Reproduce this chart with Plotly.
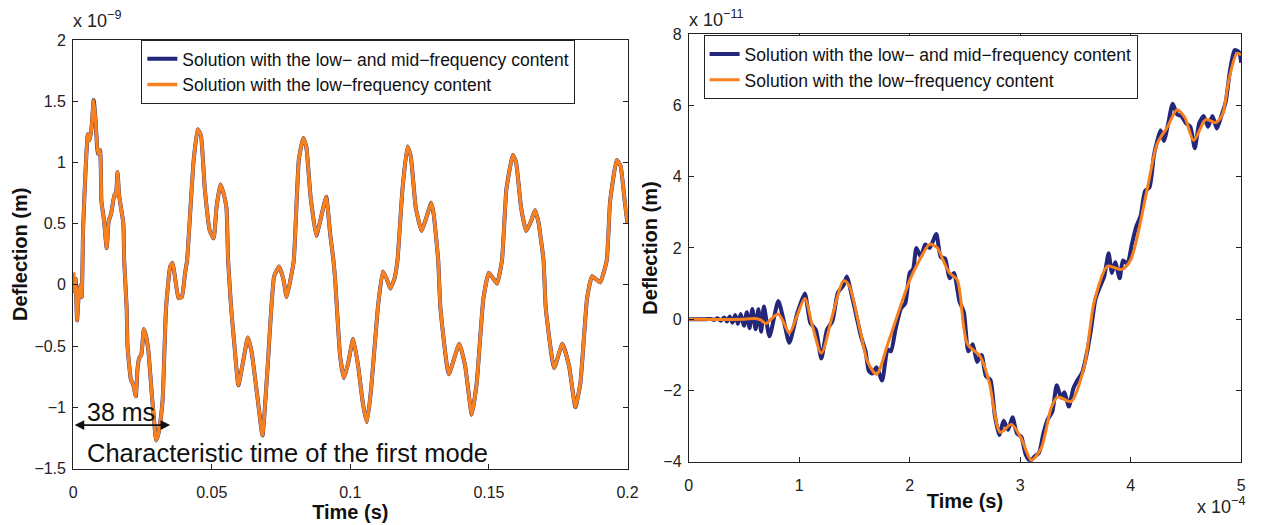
import plotly.graph_objects as go

# ---------------- data (left panel: time in s, deflection in 1e-9 m) ----------------
left_t = [0.0, 0.0004, 0.0009, 0.0014, 0.0020, 0.0026, 0.0031, 0.0036, 0.0045, 0.0053, 0.0060,
          0.0067, 0.0074, 0.0081, 0.0089, 0.0097, 0.0102, 0.0110, 0.0121, 0.0128, 0.0137, 0.0149,
          0.0154, 0.0160, 0.0166, 0.0181, 0.0184, 0.0193, 0.0196, 0.0208, 0.0216, 0.0226, 0.0232,
          0.0238, 0.0246, 0.0255, 0.0264, 0.0271, 0.0285, 0.0291, 0.0299, 0.0307, 0.0315, 0.0323,
          0.0335, 0.0350, 0.0359, 0.0368, 0.0380, 0.0392, 0.0404, 0.0411, 0.0434, 0.0449, 0.0461,
          0.0475, 0.0493, 0.0507, 0.0517, 0.0531, 0.0541, 0.0553, 0.0559, 0.0570, 0.0582, 0.0596,
          0.0612, 0.0630, 0.0644, 0.0665, 0.0683, 0.0701, 0.0725, 0.0743, 0.0758, 0.0770, 0.0782,
          0.0796, 0.0814, 0.0830, 0.0841, 0.0856, 0.0877, 0.0891, 0.0913, 0.0927, 0.0939, 0.0945,
          0.0963, 0.0977, 0.0992, 0.1010, 0.1028, 0.1046, 0.1060, 0.1075, 0.1099, 0.1117, 0.1131,
          0.1144, 0.1159, 0.1170, 0.1188, 0.1206, 0.1218, 0.1236, 0.1257, 0.1277, 0.1292, 0.1301,
          0.1317, 0.1325, 0.1355, 0.1393, 0.1414, 0.1438, 0.1456, 0.1480, 0.1500, 0.1529, 0.1547,
          0.1563, 0.1586, 0.1598, 0.1616, 0.1634, 0.1652, 0.1666, 0.1678, 0.1697, 0.1705, 0.1735,
          0.1765, 0.1789, 0.1812, 0.1830, 0.1854, 0.1872, 0.1901, 0.1925, 0.1937, 0.1961, 0.1975,
          0.1990, 0.2000]
left_y = [0.10, -0.05, 0.05, -0.29, -0.08, 0.00, -0.10, 0.47, 0.95, 1.23, 1.18,
          1.30, 1.51, 1.34, 1.07, 1.10, 0.68, 0.55, 0.30, 0.52, 0.58, 0.74,
          0.73, 0.92, 0.73, 0.50, 0.20, -0.19, -0.50, -0.77, -0.81, -0.91, -0.69,
          -0.60, -0.57, -0.36, -0.43, -0.53, -0.93, -1.08, -1.27, -1.22, -1.11, -0.93,
          -0.19, 0.15, 0.18, 0.05, -0.11, -0.10, 0.10, 0.20, 1.00, 1.27, 1.22,
          0.78, 0.44, 0.38, 0.63, 0.82, 0.76, 0.63, 0.20, -0.19, -0.50, -0.82,
          -0.64, -0.43, -0.55, -0.92, -1.23, -0.69, 0.07, 0.15, 0.05, -0.10, 0.02,
          0.20, 1.02, 1.20, 1.13, 0.73, 0.40, 0.52, 0.72, 0.42, 0.20, 0.05,
          -0.58, -0.76, -0.64, -0.44, -0.66, -0.98, -1.12, -0.85, -0.19, 0.11, 0.05,
          -0.03, 0.05, 0.20, 0.78, 1.13, 1.05, 0.63, 0.44, 0.57, 0.67, 0.57,
          0.20, -0.19, -0.73, -0.48, -0.66, -1.06, -0.80, -0.11, 0.10, 0.01, 0.20,
          0.78, 1.06, 1.00, 0.63, 0.44, 0.52, 0.61, 0.52, 0.20, -0.19, -0.68,
          -0.48, -0.66, -1.00, -0.80, -0.11, 0.07, 0.02, 0.20, 0.68, 1.02, 0.97,
          0.68, 0.50]

# ---------------- data (right panel: time in 1e-4 s, deflection in 1e-11 m) ----------------
right_low_t = [0.0, 0.50, 0.60, 0.65, 0.70, 0.76, 0.81, 0.86, 0.91, 0.98, 1.05, 1.12, 1.20, 1.30,
               1.40, 1.45, 1.55, 1.62, 1.70, 1.80, 1.91, 2.00, 2.09, 2.18, 2.25, 2.30, 2.36, 2.43,
               2.52, 2.64, 2.72, 2.82, 2.92, 3.01, 3.10, 3.19, 3.28, 3.34, 3.46, 3.58, 3.67, 3.79,
               3.85, 3.92, 4.00, 4.15, 4.24, 4.33, 4.42, 4.49, 4.57, 4.68, 4.77, 4.83, 4.89, 4.96,
               5.00]
right_low_y = [0.0, 0.0, 0.02, -0.02, -0.12, 0.05, 0.15, -0.10, -0.39, 0.10, 0.58, -0.20, -0.95, 0.10,
               1.08, 0.95, -0.30, -1.20, -1.54, -0.70, 0.31, 1.10, 1.67, 2.10, 2.00, 1.67, 1.30, 1.10,
               -0.68, -1.05, -1.77, -3.17, -2.95, -3.35, -3.95, -3.62, -2.49, -2.18, -2.31, -1.32, 0.49, 1.49,
               1.45, 1.40, 1.67, 3.66, 4.93, 5.38, 5.88, 5.66, 5.02, 5.60, 5.52, 5.74, 6.74, 7.45,
               7.42]

right_mid_t = [0.0, 0.15, 0.20, 0.23, 0.26, 0.29, 0.32, 0.345, 0.37, 0.395, 0.42, 0.445, 0.47, 0.50,
               0.525, 0.55, 0.575, 0.605, 0.63, 0.655, 0.68, 0.73, 0.81, 0.86, 0.91, 0.98, 1.05, 1.10,
               1.15, 1.20, 1.25, 1.30, 1.35, 1.40, 1.43, 1.48, 1.52, 1.56, 1.60, 1.63, 1.66, 1.70,
               1.75, 1.80, 1.83, 1.87, 1.92, 1.96, 2.00, 2.03, 2.06, 2.10, 2.14, 2.18, 2.24, 2.28,
               2.32, 2.36, 2.40, 2.45, 2.49, 2.53, 2.57, 2.61, 2.65, 2.69, 2.73, 2.77, 2.81, 2.85,
               2.89, 2.93, 2.97, 3.01, 3.05, 3.09, 3.13, 3.17, 3.21, 3.25, 3.29, 3.33, 3.37, 3.40,
               3.44, 3.48, 3.52, 3.56, 3.60, 3.64, 3.68, 3.72, 3.76, 3.80, 3.83, 3.86, 3.90, 3.93,
               3.97, 4.01, 4.05, 4.09, 4.13, 4.17, 4.21, 4.24, 4.27, 4.30, 4.34, 4.38, 4.42, 4.46,
               4.50, 4.54, 4.58, 4.62, 4.66, 4.70, 4.74, 4.78, 4.82, 4.86, 4.90, 4.94, 4.98, 5.00]
right_mid_y = [0.0, 0.0, 0.01, -0.02, 0.03, -0.04, 0.05, -0.06, 0.08, -0.10, 0.12, -0.13, 0.15, -0.18,
               0.20, -0.25, 0.29, -0.28, 0.28, -0.35, 0.36, -0.48, 0.51, -0.05, -0.66, 0.15, 0.72, -0.10,
               -0.30, -1.10, -0.30, -0.05, 0.75, 0.95, 1.20, 0.60, 0.05, -0.50, -0.90, -1.45, -1.52, -1.35,
               -1.72, -0.85, -0.90, -0.30, 0.30, 0.45, 1.30, 1.40, 2.00, 1.75, 2.10, 2.00, 2.39, 1.75,
               1.70, 1.15, 1.30, 0.50, 0.20, -0.90, -0.70, -1.20, -1.00, -1.60, -1.70, -2.70, -3.25, -2.85,
               -3.10, -2.75, -3.20, -3.30, -3.80, -3.98, -3.85, -3.75, -3.20, -2.80, -2.60, -1.85, -2.20, -2.05,
               -2.45, -1.95, -1.70, -1.50, -1.00, -0.30, 0.55, 0.90, 1.20, 1.85, 1.30, 1.60, 1.15, 1.65,
               1.55, 2.10, 2.60, 2.90, 3.60, 3.70, 4.60, 5.00, 5.30, 5.00, 5.50, 6.05, 5.75, 5.70,
               5.50, 5.40, 4.80, 5.50, 5.70, 5.40, 5.70, 5.35, 5.70, 6.10, 7.00, 7.55, 7.50, 7.20]

left_yticks = [-1.5, -1, -0.5, 0, 0.5, 1, 1.5, 2]
left_xticks = [0, 0.05, 0.1, 0.15, 0.2]
right_yticks = [-4, -2, 0, 2, 4, 6, 8]
right_xticks = [0, 1, 2, 3, 4, 5]

name_mid = "Solution with the low\u2212 and mid\u2212frequency content"
name_low = "Solution with the low\u2212frequency content"

NAVY = "#232679"
ORANGE = "#F7811E"
FONT = "Liberation Sans, Arial, Helvetica, sans-serif"
W, H = 1267, 525

fig = go.Figure()
fig.add_trace(go.Scatter(x=left_t, y=left_y, mode="lines", name=name_mid, legend="legend",
                         line=dict(color=NAVY, width=4, shape="spline", smoothing=0.4),
                         xaxis="x", yaxis="y"))
fig.add_trace(go.Scatter(x=left_t, y=left_y, mode="lines", name=name_low, legend="legend",
                         line=dict(color=ORANGE, width=3.5, shape="spline", smoothing=0.4),
                         xaxis="x", yaxis="y"))
fig.add_trace(go.Scatter(x=right_mid_t, y=right_mid_y, mode="lines", name=name_mid, legend="legend2",
                         line=dict(color=NAVY, width=4, shape="spline", smoothing=0.6),
                         xaxis="x2", yaxis="y2"))
fig.add_trace(go.Scatter(x=right_low_t, y=right_low_y, mode="lines", name=name_low, legend="legend2",
                         line=dict(color=ORANGE, width=3, shape="spline", smoothing=0.8),
                         xaxis="x2", yaxis="y2"))

axis_common = dict(showgrid=False, zeroline=False, showline=True, linecolor="#222", linewidth=1,
                   mirror="ticks", ticks="inside", ticklen=5, tickcolor="#222",
                   tickfont=dict(family=FONT, size=16, color="#222"))
title_font = dict(family=FONT, size=20, color="#111", weight="bold")

fig.update_layout(
    width=W, height=H, margin=dict(l=0, r=0, t=0, b=0),
    paper_bgcolor="white", plot_bgcolor="white", showlegend=True,
    xaxis=dict(domain=[70 / W, 631 / W], range=[0, 0.2], tickvals=left_xticks,
               ticktext=["0", "0.05", "0.1", "0.15", "0.2"], anchor="y", ticklabelstandoff=9,
               title=dict(text="Time (s)", font=title_font, standoff=0), **axis_common),
    yaxis=dict(domain=[1 - 476 / H, 1 - 33 / H], range=[-1.5, 2], tickvals=left_yticks,
               ticktext=["\u22121.5", "\u22121", "\u22120.5", "0", "0.5", "1", "1.5", "2"], anchor="x",
               ticklabelstandoff=3,
               title=dict(text="Deflection (m)", font=title_font, standoff=1), **axis_common),
    xaxis2=dict(domain=[693 / W, 1252 / W], range=[0, 5], tickvals=right_xticks, anchor="y2",
                ticklabelstandoff=9,
                title=dict(text="Time (s)", font=title_font, standoff=0), **axis_common),
    yaxis2=dict(domain=[1 - 469 / H, 1 - 27 / H], range=[-4, 8], tickvals=right_yticks,
                ticktext=["\u22124", "\u22122", "0", "2", "4", "6", "8"], anchor="x2",
                ticklabelstandoff=3,
                title=dict(text="Deflection (m)", font=title_font, standoff=0), **axis_common),
    legend=dict(x=139 / W, y=1 - 33 / H, xanchor="left", yanchor="top", bgcolor="white",
                bordercolor="#222", borderwidth=1, font=dict(family=FONT, size=17.5, color="#111"),
                tracegroupgap=0, itemwidth=30),
    legend2=dict(x=708 / W, y=1 - 28 / H, xanchor="left", yanchor="top", bgcolor="white",
                 bordercolor="#222", borderwidth=1, font=dict(family=FONT, size=17.5, color="#111"),
                 tracegroupgap=0, itemwidth=30),
)

ann_font = dict(family=FONT, size=18, color="#222")
fig.add_annotation(text="x 10<sup>\u22129</sup>", xref="paper", yref="paper", x=68 / W, y=1 - 26 / H,
                   xanchor="left", yanchor="bottom", showarrow=False, font=ann_font)
fig.add_annotation(text="x 10<sup>\u221211</sup>", xref="paper", yref="paper", x=691 / W, y=1 - 25 / H,
                   xanchor="left", yanchor="bottom", showarrow=False, font=ann_font)
fig.add_annotation(text="x 10<sup>\u22124</sup>", xref="paper", yref="paper", x=1258 / W, y=1 - 500 / H,
                   xanchor="right", yanchor="top", showarrow=False, font=ann_font)

# 38 ms double arrow and labels
fig.add_annotation(x=0.035, y=-1.145, ax=0.0, ay=-1.145, xref="x", yref="y", axref="x", ayref="y",
                   text="", showarrow=True, arrowhead=2, startarrowhead=2, arrowside="end+start",
                   arrowsize=1.2, startarrowsize=1.2, arrowwidth=1.6, arrowcolor="#111",
                   standoff=0, startstandoff=0)
fig.add_annotation(text="38 ms", xref="x", yref="y", x=0.0044, y=-1.04, xanchor="left", yanchor="middle",
                   showarrow=False, font=dict(family=FONT, size=25, color="#111"))
fig.add_annotation(text="Characteristic time of the first mode", xref="x", yref="y", x=0.0044, y=-1.37,
                   xanchor="left", yanchor="middle", showarrow=False,
                   font=dict(family=FONT, size=25.5, color="#111"))

fig.write_html("out.html")
